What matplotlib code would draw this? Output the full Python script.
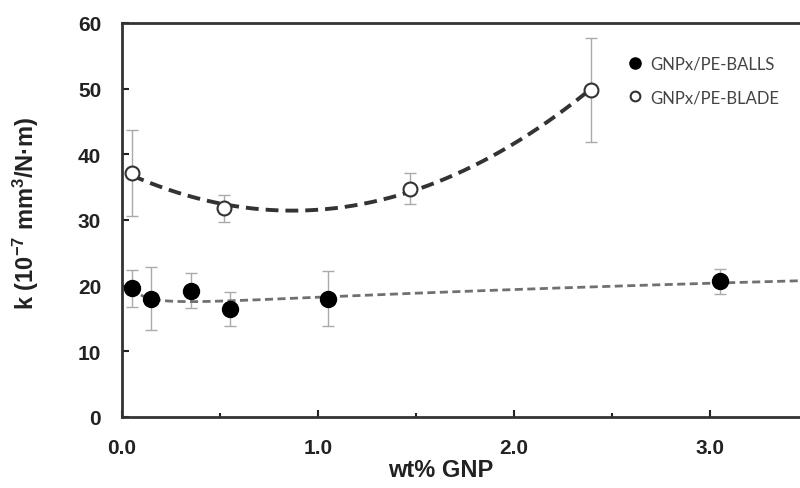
import numpy as np
import matplotlib
matplotlib.use("Agg")
from matplotlib import pyplot as plt

plt.rcParams['font.family'] = ['Liberation Sans', 'DejaVu Sans']
plt.rcParams['mathtext.fontset'] = 'custom'
plt.rcParams['mathtext.bf'] = 'Liberation Sans:bold'
plt.rcParams['mathtext.rm'] = 'Liberation Sans:bold'
plt.rcParams['mathtext.default'] = 'bf'

# GNPx/PE-BALLS (filled)
balls_x = [0.05, 0.15, 0.35, 0.55, 1.05, 3.05]
balls_y = [19.7, 17.9, 19.2, 16.4, 17.9, 20.7]
balls_lo = [16.8, 13.2, 16.6, 13.8, 13.8, 18.8]
balls_hi = [22.4, 22.8, 21.9, 19.1, 22.2, 22.6]

# GNPx/PE-BLADE (open)
blade_x = [0.05, 0.52, 1.47, 2.39]
blade_y = [37.1, 31.8, 34.7, 49.8]
blade_lo = [30.6, 29.7, 32.4, 41.9]
blade_hi = [43.7, 33.8, 37.1, 57.7]

fig = plt.figure(figsize=(8, 4.89), dpi=100)
ax = fig.add_axes([0.1525, 0.1452, 0.858, 0.806])

# trend lines fitted to each series
bx = np.linspace(balls_x[0], 3.5, 200)
bp = np.polyfit(np.log(balls_x), balls_y, 2)
ax.plot(bx, np.polyval(bp, np.log(bx)), color='#707070', lw=2, dashes=(2.9, 1.6), zorder=2)

dx = np.linspace(blade_x[0], blade_x[-1], 200)
dp = np.polyfit(blade_x, blade_y, 2)
ax.plot(dx, np.polyval(dp, dx), color='#333333', lw=2.8, dashes=(3.3, 1.8), zorder=2)

# error bars
ax.errorbar(balls_x, balls_y,
            yerr=[np.subtract(balls_y, balls_lo), np.subtract(balls_hi, balls_y)],
            fmt='none', ecolor='#aaaaaa', elinewidth=1, capsize=4, zorder=1)
ax.errorbar(blade_x, blade_y,
            yerr=[np.subtract(blade_y, blade_lo), np.subtract(blade_hi, blade_y)],
            fmt='none', ecolor='#aaaaaa', elinewidth=1, capsize=4, zorder=1)

ax.plot(balls_x, balls_y, 'o', color='black', ms=11.5, ls='none',
        label='GNPx/PE-BALLS', zorder=3)
ax.plot(blade_x, blade_y, 'o', mfc='white', mec='#333333', mew=1.5, ms=10,
        ls='none', label='GNPx/PE-BLADE', zorder=3)

ax.set_xlim(0, 3.5)
ax.set_ylim(0, 60)
ax.set_xticks([0, 1, 2, 3])
ax.set_xticklabels(['0.0', '1.0', '2.0', '3.0'])
ax.set_xticks([0.5, 1.5, 2.5], minor=True)
ax.set_yticks(range(0, 61, 10))
ax.tick_params(axis='both', which='major', direction='in', length=5, width=1.5,
               labelsize=15, color='#222222')
ax.tick_params(axis='x', which='major', pad=15)
ax.tick_params(axis='y', which='major', pad=15)
ax.tick_params(axis='x', which='minor', direction='in', length=3, width=1.5,
               color='#222222')
for lab in ax.get_xticklabels() + ax.get_yticklabels():
    lab.set_fontweight('bold')
    lab.set_color('#222222')
for s in ax.spines.values():
    s.set_linewidth(2)
    s.set_color('#333333')

ax.set_xlabel('wt% GNP', fontsize=17, fontweight='bold', color='#222222')
ax.xaxis.set_label_coords(0.465, -0.105)
ax.set_ylabel('k (10$^{-7}$ mm$^{3}$/N·m)', fontsize=17, fontweight='bold',
              color='#222222')
ax.yaxis.set_label_coords(-0.118, 0.52)

leg = ax.legend(loc='upper left', bbox_to_anchor=(0.714, 0.955), frameon=False,
                prop={'family': 'Lato', 'size': 12}, handletextpad=0.4,
                markerscale=0.7, labelspacing=1.05, handlelength=1)
for t in leg.get_texts():
    t.set_color('#444444')

fig.savefig('out.png', dpi=100)
